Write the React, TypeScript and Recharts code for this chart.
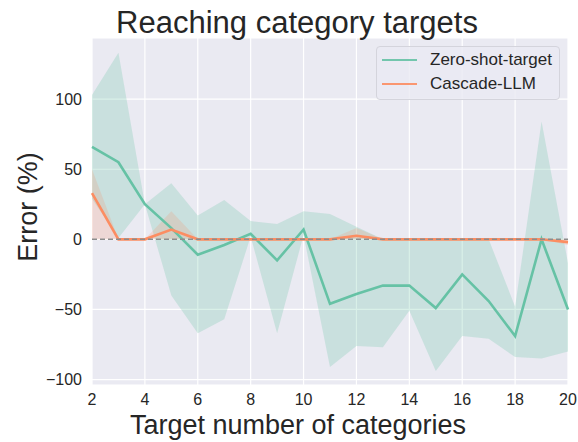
import {
  ComposedChart,
  Area,
  Line,
  XAxis,
  YAxis,
  CartesianGrid,
  ReferenceLine,
} from "recharts";

const targets = [2, 3, 4, 5, 6, 7, 8, 9, 10, 11, 12, 13, 14, 15, 16, 17, 18, 19, 20];

const zeroShotMean = [66, 55, 25, 8, -11, -4, 4, -15, 7, -46, -39, -33, -33, -49, -25, -44, -69, 0, -50];
const zeroShotHigh = [103, 133, 25, 40, 17, 28, 13, 11, 20, 18, 9, 0, 0, 0, 0, 0, -48, 84, -17];
const zeroShotLow = [29, 1, 25, -40, -67, -57, 2, -67, 3, -91, -76, -77, -51, -94, -69, -71, -84, -85, -80];

const cascadeMean = [33, 0, 0, 7, 0, 0, 0, 0, 0, 0, 2.5, 0, 0, 0, 0, 0, 0, 0, -2];
const cascadeHigh = [50, 0, 0, 20, 0, 0, 0, 0, 0, 0, 8, 0, 0, 0, 0, 0, 0, 0, 0];
const cascadeLow = [0, 0, 0, 0, 0, 0, 0, 0, 0, 0, 0, 0, 0, 0, 0, 0, 0, 0, -4];

const xTicks = [2, 4, 6, 8, 10, 12, 14, 16, 18, 20];
const yTicks = [-100, -50, 0, 50, 100];

const GREEN = "#66c2a5";
const ORANGE = "#fc8d62";
const TEXT = "#262626";
const FONT = "'Liberation Sans', Arial, sans-serif";

const data = targets.map((x, i) => ({
  x,
  zeroShot: zeroShotMean[i],
  zeroBand: [zeroShotLow[i], zeroShotHigh[i]],
  cascade: cascadeMean[i],
  cascadeBand: [cascadeLow[i], cascadeHigh[i]],
}));

const legendItems = [
  { name: "Zero-shot-target", color: GREEN },
  { name: "Cascade-LLM", color: ORANGE },
];

const fmt = (v: number) => String(v).replace("-", "\u2212");

export default function App() {
  return (
    <div style={{ position: "absolute", left: 0, top: 0, width: 578, height: 442, background: "#fff", fontFamily: FONT }}>
      <ComposedChart
        width={578}
        height={442}
        data={data}
        margin={{ top: 38, right: 10, bottom: 0, left: 0 }}
      >
        <CartesianGrid stroke="#ffffff" strokeWidth={1.2} fill="#eaeaf2" fillOpacity={1} />
        <XAxis
          type="number"
          dataKey="x"
          domain={[2, 20]}
          ticks={xTicks}
          height={57}
          axisLine={false}
          tickLine={false}
          tickSize={6}
          tickMargin={3}
          tick={{ fill: TEXT, fontSize: 16, fontFamily: FONT }}
        />
        <YAxis
          type="number"
          domain={[-103.9, 143.6]}
          allowDataOverflow
          ticks={yTicks}
          width={92}
          axisLine={false}
          tickLine={false}
          tickSize={6}
          tickMargin={4}
          tickFormatter={fmt}
          tick={{ fill: TEXT, fontSize: 16, fontFamily: FONT }}
        />
        <Area
          type="linear"
          dataKey="zeroBand"
          stroke="none"
          fill={GREEN}
          fillOpacity={0.25}
          isAnimationActive={false}
        />
        <Area
          type="linear"
          dataKey="cascadeBand"
          stroke="none"
          fill={ORANGE}
          fillOpacity={0.2}
          isAnimationActive={false}
        />
        <Line
          type="linear"
          dataKey="zeroShot"
          stroke={GREEN}
          strokeWidth={2.6}
          dot={false}
          isAnimationActive={false}
        />
        <Line
          type="linear"
          dataKey="cascade"
          stroke={ORANGE}
          strokeWidth={2.6}
          dot={false}
          isAnimationActive={false}
        />
        <ReferenceLine y={0} stroke="#8c8c8c" strokeWidth={1.5} strokeDasharray="5 3" />
      </ComposedChart>

      <svg width={578} height={442} style={{ position: "absolute", left: 0, top: 0, pointerEvents: "none" }}>
        <text x={297} y={33} textAnchor="middle" fontSize={31} fill={TEXT} fontFamily={FONT}>
          Reaching category targets
        </text>
        <text x={298} y={434} textAnchor="middle" fontSize={27} fill={TEXT} fontFamily={FONT}>
          Target number of categories
        </text>
        <text
          x={0}
          y={0}
          transform="translate(37,207) rotate(-90)"
          textAnchor="middle"
          fontSize={27}
          fill={TEXT}
          fontFamily={FONT}
        >
          Error (%)
        </text>
      </svg>

      <div
        style={{
          position: "absolute",
          left: 376,
          top: 46,
          width: 184,
          height: 54,
          boxSizing: "border-box",
          background: "rgba(234,234,242,0.8)",
          border: "1px solid #d4d4dc",
          borderRadius: 4,
        }}
      >
        {legendItems.map((item, i) => (
          <div key={item.name} style={{ position: "absolute", left: 5, top: 3 + i * 24, height: 20, display: "flex", alignItems: "center" }}>
            <div style={{ width: 35, height: 2, background: item.color, opacity: 0.9 }} />
            <span style={{ marginLeft: 13, fontSize: 17, color: TEXT, lineHeight: "20px", whiteSpace: "nowrap" }}>{item.name}</span>
          </div>
        ))}
      </div>
    </div>
  );
}
